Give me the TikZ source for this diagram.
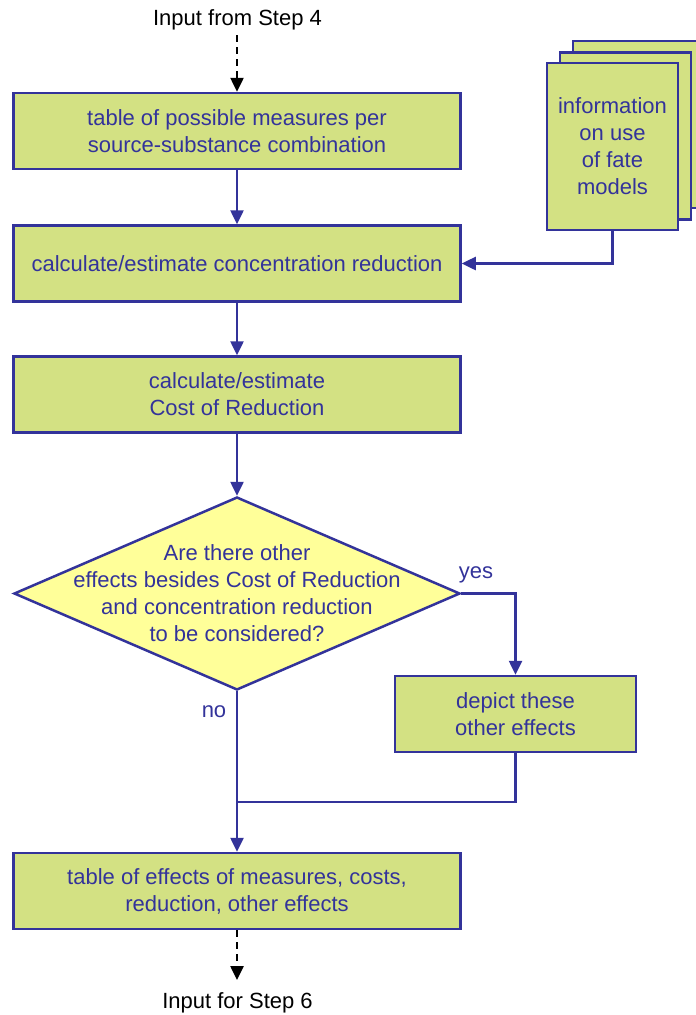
\documentclass[tikz,border=0pt]{standalone}
\usepackage{fontspec}
\setmainfont{Liberation Sans}
\usetikzlibrary{arrows.meta,shapes.geometric}
\definecolor{boxgreen}{HTML}{D3E183}
\definecolor{navy}{HTML}{33339A}
\definecolor{qyellow}{HTML}{FFFF99}
\tikzset{
  every node/.style={font=\fontsize{22}{27}\selectfont},
  stepbox/.style={draw=navy, line width=2.5pt, fill=boxgreen, text=navy,
    align=center, minimum height=76pt, inner sep=0pt},
  widebox/.style={stepbox, minimum width=447pt},
  docbox/.style={stepbox, minimum width=131pt, minimum height=167pt},
  decision/.style={draw=navy, line width=2.5pt, fill=qyellow, diamond,
    minimum width=446pt, minimum height=193pt, inner sep=0pt},
  qtext/.style={text=navy, align=center},
  flow/.style={draw=navy, line width=2.5pt, -{Triangle[length=14pt,width=13pt]}},
  link/.style={draw=navy, line width=2.5pt},
  ioarrow/.style={draw=black, line width=2.5pt, dash pattern=on 7pt off 5pt,
    -{Triangle[length=14pt,width=13pt]}},
  iotext/.style={text=black},
  edgelabel/.style={text=navy}
}
\begin{document}
\begin{tikzpicture}[x=1pt,y=-1pt]
\useasboundingbox (0,0) rectangle (696,1015);

% stacked documents (back to front)
\node[docbox] (docC) at (638.5,124.5) {};
\node[docbox] (docB) at (625.5,136) {};
\node[docbox] (docA) at (612.5,146.5) {information\\on use\\of fate\\models};

% main chain
\node[iotext] (in) at (237.5,20) {Input from Step 4};
\node[widebox] (b1) at (237,131) {table of possible measures per\\source-substance combination};
\node[widebox] (b2) at (237,263.5) {calculate/estimate concentration reduction};
\node[widebox] (b3) at (237,394.5) {calculate/estimate\\Cost of Reduction};
\node[decision] (q) at (237,593.5) {};
\node[qtext] at (q) {Are there other\\effects besides Cost of Reduction\\and concentration reduction\\to be considered?};
\node[stepbox, minimum width=241pt] (dep) at (515.5,714) {depict these\\other effects};
\node[widebox] (b4) at (237,891) {table of effects of measures, costs,\\reduction, other effects};
\node[iotext] (out) at (237.5,1003) {Input for Step 6};

\coordinate (inEnd) at (237,35);
\coordinate (outEnd) at (237,980);
\coordinate (merge) at (237,802);

% connectors
\draw[ioarrow] (inEnd) -- (b1.north);
\draw[flow] (b1) -- (b2);
\draw[flow] (docA.south) |- (b2.east);
\draw[flow] (b2) -- (b3);
\draw[flow] (b3) -- (q.north);
\draw[flow] (q.east) -| (dep.north);
\draw[flow] (q.south) -- (b4.north);
\draw[link] (dep.south) |- (merge);
\draw[ioarrow] (b4.south) -- (outEnd);

% branch labels
\node[edgelabel] (yes) at (476,575) {yes};
\node[edgelabel] (no) at (214,712) {no};
\end{tikzpicture}
\end{document}
